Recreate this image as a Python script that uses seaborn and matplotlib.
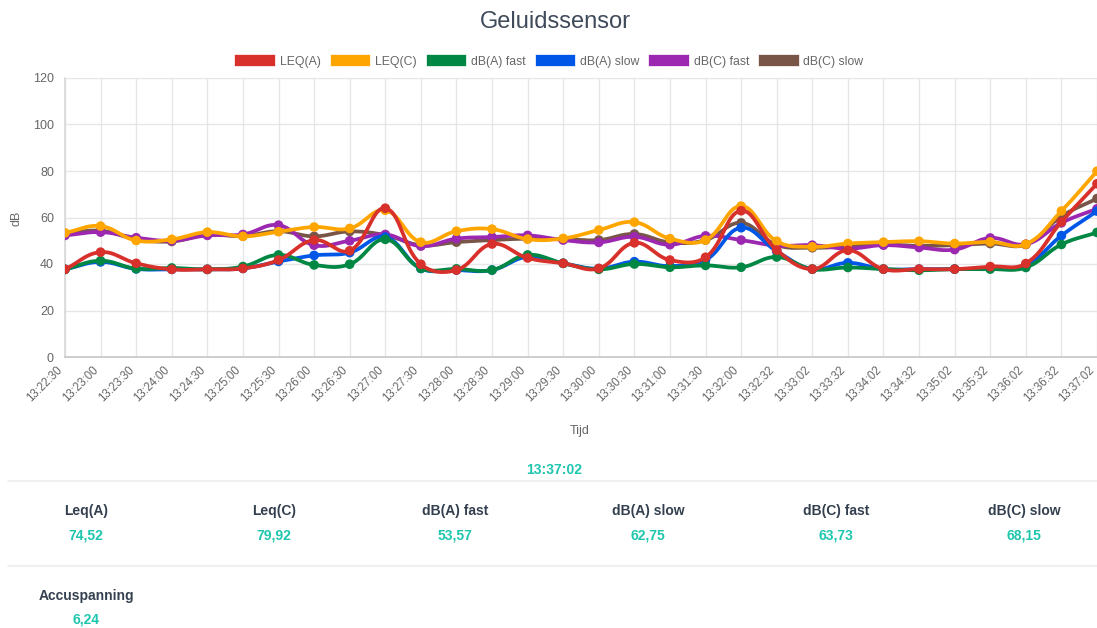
import numpy as np
import pandas as pd
import matplotlib
matplotlib.use("Agg")
import matplotlib.pyplot as plt
import matplotlib.transforms as mtrans
import seaborn as sns

# ---------------- data ----------------
times = ["13:22:30", "13:23:00", "13:23:30", "13:24:00", "13:24:30", "13:25:00",
         "13:25:30", "13:26:00", "13:26:30", "13:27:00", "13:27:30", "13:28:00",
         "13:28:30", "13:29:00", "13:29:30", "13:30:00", "13:30:30", "13:31:00",
         "13:31:30", "13:32:00", "13:32:32", "13:33:02", "13:33:32", "13:34:02",
         "13:34:32", "13:35:02", "13:35:32", "13:36:02", "13:36:32", "13:37:02"]

leq_a = [37.7, 45.1, 40.3, 37.7, 37.7, 38.1, 41.7, 50.3, 45.7, 64.0,
         39.9, 37.4, 48.6, 42.6, 40.3, 38.1, 49.1, 41.7, 42.9, 62.9,
         46.0, 37.8, 45.9, 37.8, 37.8, 37.8, 38.9, 40.2, 58.1, 74.52]
leq_c = [53.4, 56.3, 50.1, 50.6, 53.7, 51.9, 53.9, 55.9, 55.3, 63.1,
         49.4, 54.1, 55.0, 50.7, 51.0, 54.6, 58.0, 50.9, 50.3, 64.9,
         49.8, 47.4, 48.8, 49.4, 49.8, 48.8, 49.5, 48.5, 62.8, 79.92]
dba_fast = [37.7, 41.4, 38.0, 38.3, 37.7, 38.9, 43.9, 39.6, 39.9, 50.6,
            38.1, 37.9, 37.4, 43.9, 40.3, 37.7, 40.0, 38.6, 39.4, 38.6,
            43.0, 37.8, 38.5, 37.8, 37.3, 37.8, 37.8, 38.5, 48.4, 53.57]
dba_slow = [37.7, 40.9, 37.9, 37.7, 37.7, 38.1, 41.1, 43.7, 44.9, 51.6,
            38.1, 37.4, 37.4, 43.1, 40.3, 38.0, 41.0, 39.1, 41.7, 55.6,
            45.5, 37.8, 40.5, 37.8, 37.8, 37.8, 38.3, 39.5, 52.2, 62.75]
dbc_fast = [52.3, 53.7, 51.3, 50.0, 52.3, 52.7, 56.7, 48.1, 50.0, 52.7,
            47.7, 50.9, 51.6, 52.3, 50.3, 49.3, 51.7, 48.3, 52.1, 50.3,
            47.9, 48.1, 46.6, 48.1, 47.1, 46.2, 51.2, 48.5, 57.7, 63.73]
dbc_slow = [53.0, 54.3, 50.7, 49.7, 52.6, 52.0, 54.1, 51.9, 54.0, 52.4,
            48.1, 49.4, 50.3, 50.9, 50.7, 50.3, 52.9, 49.3, 50.3, 57.7,
            48.2, 47.0, 47.6, 48.4, 47.8, 48.1, 48.8, 48.4, 60.5, 68.15]

series_names = ["LEQ(A)", "LEQ(C)", "dB(A) fast", "dB(A) slow", "dB(C) fast", "dB(C) slow"]
series_values = [leq_a, leq_c, dba_fast, dba_slow, dbc_fast, dbc_slow]
colors = ["#d8302a", "#ffa500", "#008744", "#0057e7", "#9c27b0", "#795548"]

summary_labels = ["Leq(A)", "Leq(C)", "dB(A) fast", "dB(A) slow", "dB(C) fast", "dB(C) slow"]
summary_values = ["74,52", "79,92", "53,57", "62,75", "63,73", "68,15"]
last_time = "13:37:02"
accu_label = "Accuspanning"
accu_value = "6,24"

# ---------------- style ----------------
W, H, DPI = 1097, 628, 100
sns.set_theme(style="white")
plt.rcParams["font.family"] = ["Liberation Sans", "DejaVu Sans"]

fig = plt.figure(figsize=(W / DPI, H / DPI), dpi=DPI)
fig.patch.set_facecolor("white")

ax_l, ax_r, ax_t, ax_b = 65, 1097, 78, 357
ax = fig.add_axes([ax_l / W, 1 - ax_b / H, (ax_r - ax_l) / W, (ax_b - ax_t) / H])
ax.set_facecolor("white")

n = len(times)
xs = np.arange(n)
ymax = 120


def chartjs_spline(x, y, tension=0.4, sx=1.0, sy=1.0):
    """Cubic bezier through points with Chart.js style control points."""
    px = np.asarray(x, float) * sx
    py = np.asarray(y, float) * sy
    m = len(px)
    cp_prev = np.zeros((m, 2))
    cp_next = np.zeros((m, 2))
    for i in range(m):
        p1 = np.array([px[i], py[i]])
        p0 = np.array([px[i - 1], py[i - 1]]) if i > 0 else p1
        p2 = np.array([px[i + 1], py[i + 1]]) if i < m - 1 else p1
        d01 = np.hypot(*(p1 - p0))
        d12 = np.hypot(*(p2 - p1))
        tot = d01 + d12
        s01 = d01 / tot if tot else 0
        s12 = d12 / tot if tot else 0
        cp_prev[i] = p1 - tension * s01 * (p2 - p0)
        cp_next[i] = p1 + tension * s12 * (p2 - p0)
    out_x, out_y = [], []
    t = np.linspace(0, 1, 25)
    for i in range(m - 1):
        P0 = np.array([px[i], py[i]])
        P1 = cp_next[i]
        P2 = cp_prev[i + 1]
        P3 = np.array([px[i + 1], py[i + 1]])
        b = ((1 - t) ** 3)[:, None] * P0 + (3 * (1 - t) ** 2 * t)[:, None] * P1 \
            + (3 * (1 - t) * t ** 2)[:, None] * P2 + (t ** 3)[:, None] * P3
        out_x.extend(b[:, 0])
        out_y.extend(b[:, 1])
    return np.array(out_x) / sx, np.array(out_y) / sy


px_per_x = (ax_r - ax_l) / (n - 1)
px_per_y = (ax_b - ax_t) / ymax

# first dataset drawn on top (Chart.js order)
for k, (name, vals, col) in enumerate(zip(series_names, series_values, colors)):
    z = 10 + 2 * (len(series_names) - k)
    cx, cy = chartjs_spline(xs, vals, 0.4, px_per_x, px_per_y)
    ax.plot(cx, cy, color=col, lw=2.7, solid_capstyle="round", zorder=z)
    d = pd.DataFrame({"x": xs, "y": vals})
    sns.scatterplot(data=d, x="x", y="y", color=col, s=48, edgecolor="none",
                    legend=False, ax=ax, zorder=z + 1, clip_on=True)

ax.set_xlim(0, n - 1)
ax.set_ylim(0, ymax)
ax.set_xticks(xs)
ax.set_xticklabels([""] * n)
# rotated time labels placed just below the axis, right end at the tick
lab_tr = mtrans.blended_transform_factory(ax.transData, ax.transAxes) + \
    mtrans.ScaledTranslation(-4 / DPI, -11 / DPI, fig.dpi_scale_trans)
for xi, t in zip(xs, times):
    ax.text(xi, 0, t, transform=lab_tr, rotation=45, rotation_mode="anchor",
            ha="right", va="center", fontsize=8.3, color="#666666", clip_on=False)

ax.set_yticks(np.arange(0, ymax + 1, 20))
ax.set_yticklabels([str(v) for v in range(0, ymax + 1, 20)], fontsize=9, color="#666666")
ax.grid(True, color="#e6e6e6", lw=1)
ax.set_axisbelow(True)
for s in ["top", "right"]:
    ax.spines[s].set_visible(False)
ax.spines["left"].set_color("#d9d9d9")
ax.spines["bottom"].set_color("#c8c8c8")
ax.tick_params(axis="both", which="both", length=6, color="#e6e6e6", pad=2)
ax.set_xlabel("")
ax.set_ylabel("")

# axis titles
fig.text(17 / W, 1 - 218 / H, "dB", rotation=90, fontsize=9, color="#666666",
         ha="center", va="center")
fig.text(580 / W, 1 - 431 / H, "Tijd", fontsize=9, color="#666666", ha="center", va="center")

# title
fig.text(555 / W, 1 - 22 / H, "Geluidssensor", fontsize=17, color="#3f4a5a",
         ha="center", va="center")

# legend
handles = [plt.Rectangle((0, 0), 1, 1, facecolor=c, edgecolor="white", lw=0.5) for c in colors]
fig.legend(handles, series_names, loc="center", bbox_to_anchor=(549 / W, 1 - 61 / H),
           ncol=6, frameon=False, fontsize=8.8, handlelength=3.3, handleheight=1.1,
           handletextpad=0.4, columnspacing=0.75, labelcolor="#666666")

# summary panel
teal = "#1fc6ae"
dark = "#34404f"
fig.text(554 / W, 1 - 470 / H, last_time, fontsize=10, color=teal, fontweight="bold",
         ha="center", va="center")
fig.add_artist(plt.Line2D([8 / W, 1], [1 - 481 / H, 1 - 481 / H], color="#eeeeee", lw=1.2))
label_x = [86, 274, 455, 648, 836, 1024]
for lx, lab, val in zip(label_x, summary_labels, summary_values):
    fig.text(lx / W, 1 - 511 / H, lab, fontsize=10, color=dark, fontweight="bold",
             ha="center", va="center")
    fig.text(lx / W, 1 - 535 / H, val, fontsize=10, color=teal, fontweight="bold",
             ha="center", va="center")
fig.add_artist(plt.Line2D([8 / W, 1], [1 - 566 / H, 1 - 566 / H], color="#eeeeee", lw=1.2))
fig.text(86 / W, 1 - 596 / H, accu_label, fontsize=10, color=dark, fontweight="bold",
         ha="center", va="center")
fig.text(86 / W, 1 - 620 / H, accu_value, fontsize=10, color=teal, fontweight="bold",
         ha="center", va="center")

fig.savefig("out.png", dpi=DPI, facecolor="white")
